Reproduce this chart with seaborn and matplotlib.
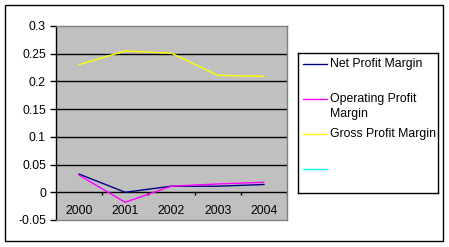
import matplotlib
matplotlib.use("Agg")
import matplotlib.pyplot as plt
from matplotlib.patches import Rectangle
from matplotlib.lines import Line2D
import seaborn as sns
import pandas as pd
import numpy as np

years = ["2000", "2001", "2002", "2003", "2004"]
net_profit = [0.033, 0.000, 0.011, 0.011, 0.014]
operating_profit = [0.031, -0.018, 0.011, 0.015, 0.018]
gross_profit = [0.230, 0.255, 0.251, 0.211, 0.209]
series_names = ["Net Profit Margin", "Operating Profit\nMargin", "Gross Profit Margin", ""]
series_colors = ["#000080", "#FF00FF", "#FFFF00", "#00FFFF"]
y_ticks = [-0.05, 0, 0.05, 0.1, 0.15, 0.2, 0.25, 0.3]
y_labels = ["-0.05", "0", "0.05", "0.1", "0.15", "0.2", "0.25", "0.3"]

sns.set_style("white")
plt.rcParams["font.family"] = ["Liberation Sans", "DejaVu Sans"]
plt.rcParams["font.size"] = 8

W, H = 449, 247
fig = plt.figure(figsize=(W / 100, H / 100), dpi=100)

def fx(px):
    return px / W

def fy(py):
    return 1 - py / H

# outer chart border
fig.patches.append(Rectangle((fx(5), fy(241)), fx(443) - fx(5), fy(5) - fy(241),
                             transform=fig.transFigure, fill=False, edgecolor="black",
                             linewidth=1))

ax = fig.add_axes([fx(55.7), fy(220), fx(287.3) - fx(55.7), fy(26) - fy(220)])
ax.set_facecolor("#C0C0C0")

rows = []
for name, vals in zip(series_names[:3], [net_profit, operating_profit, gross_profit]):
    for i, v in enumerate(vals):
        rows.append({"pos": i, "value": v, "series": name})
df = pd.DataFrame(rows)

pal = dict(zip(series_names[:3], series_colors[:3]))
sns.lineplot(data=df, x="pos", y="value", hue="series", palette=pal, legend=False,
             linewidth=1, ax=ax, zorder=3)

n = len(years)
ax.set_xlim(-0.5, n - 0.5)
ax.set_ylim(y_ticks[0], y_ticks[-1])
ax.set_yticks(y_ticks)
ax.set_yticklabels(y_labels)
ax.set_xticks([])
ax.set_xlabel("")
ax.set_ylabel("")
ax.tick_params(axis="y", which="both", left=True, length=4, width=1, color="black",
               pad=3, labelsize=8.8, labelcolor="black")

for yv in y_ticks[1:-1]:
    ax.axhline(yv, color="black", linewidth=1, zorder=1)

for side in ["top", "right", "bottom"]:
    ax.spines[side].set_color("#808080")
    ax.spines[side].set_linewidth(1)
ax.spines["left"].set_color("black")
ax.spines["left"].set_linewidth(1)

# category tick marks at the zero axis
ax.vlines(np.arange(n) + 0.5, -0.0055, 0, color="black", linewidth=1, zorder=2)
for i, yr in enumerate(years):
    ax.text(i, -0.034, yr, ha="center", va="center", fontsize=8.8, color="black")

# legend box
lx0, ly0, lx1, ly1 = 298.3, 53.3, 438.3, 193.3
lax = fig.add_axes([fx(lx0), fy(ly1), fx(lx1) - fx(lx0), fy(ly0) - fy(ly1)])
lax.set_xlim(0, lx1 - lx0)
lax.set_ylim(ly1 - ly0, 0)
lax.set_xticks([])
lax.set_yticks([])
lax.set_facecolor("white")
for s in lax.spines.values():
    s.set_color("black")
    s.set_linewidth(1)

entry_y = [10.7, 46, 80.7, 116]
for name, col, yy in zip(series_names, series_colors, entry_y):
    lax.add_line(Line2D([5, 28.4], [yy, yy], color=col, linewidth=1))
    if "\n" in name:
        lax.text(31.7, yy - 6.5, name, ha="left", va="top", fontsize=8.8,
                 linespacing=1.3, color="black")
    elif name:
        lax.text(31.7, yy, name, ha="left", va="center", fontsize=8.8, color="black")

fig.savefig("out.png", dpi=100)
